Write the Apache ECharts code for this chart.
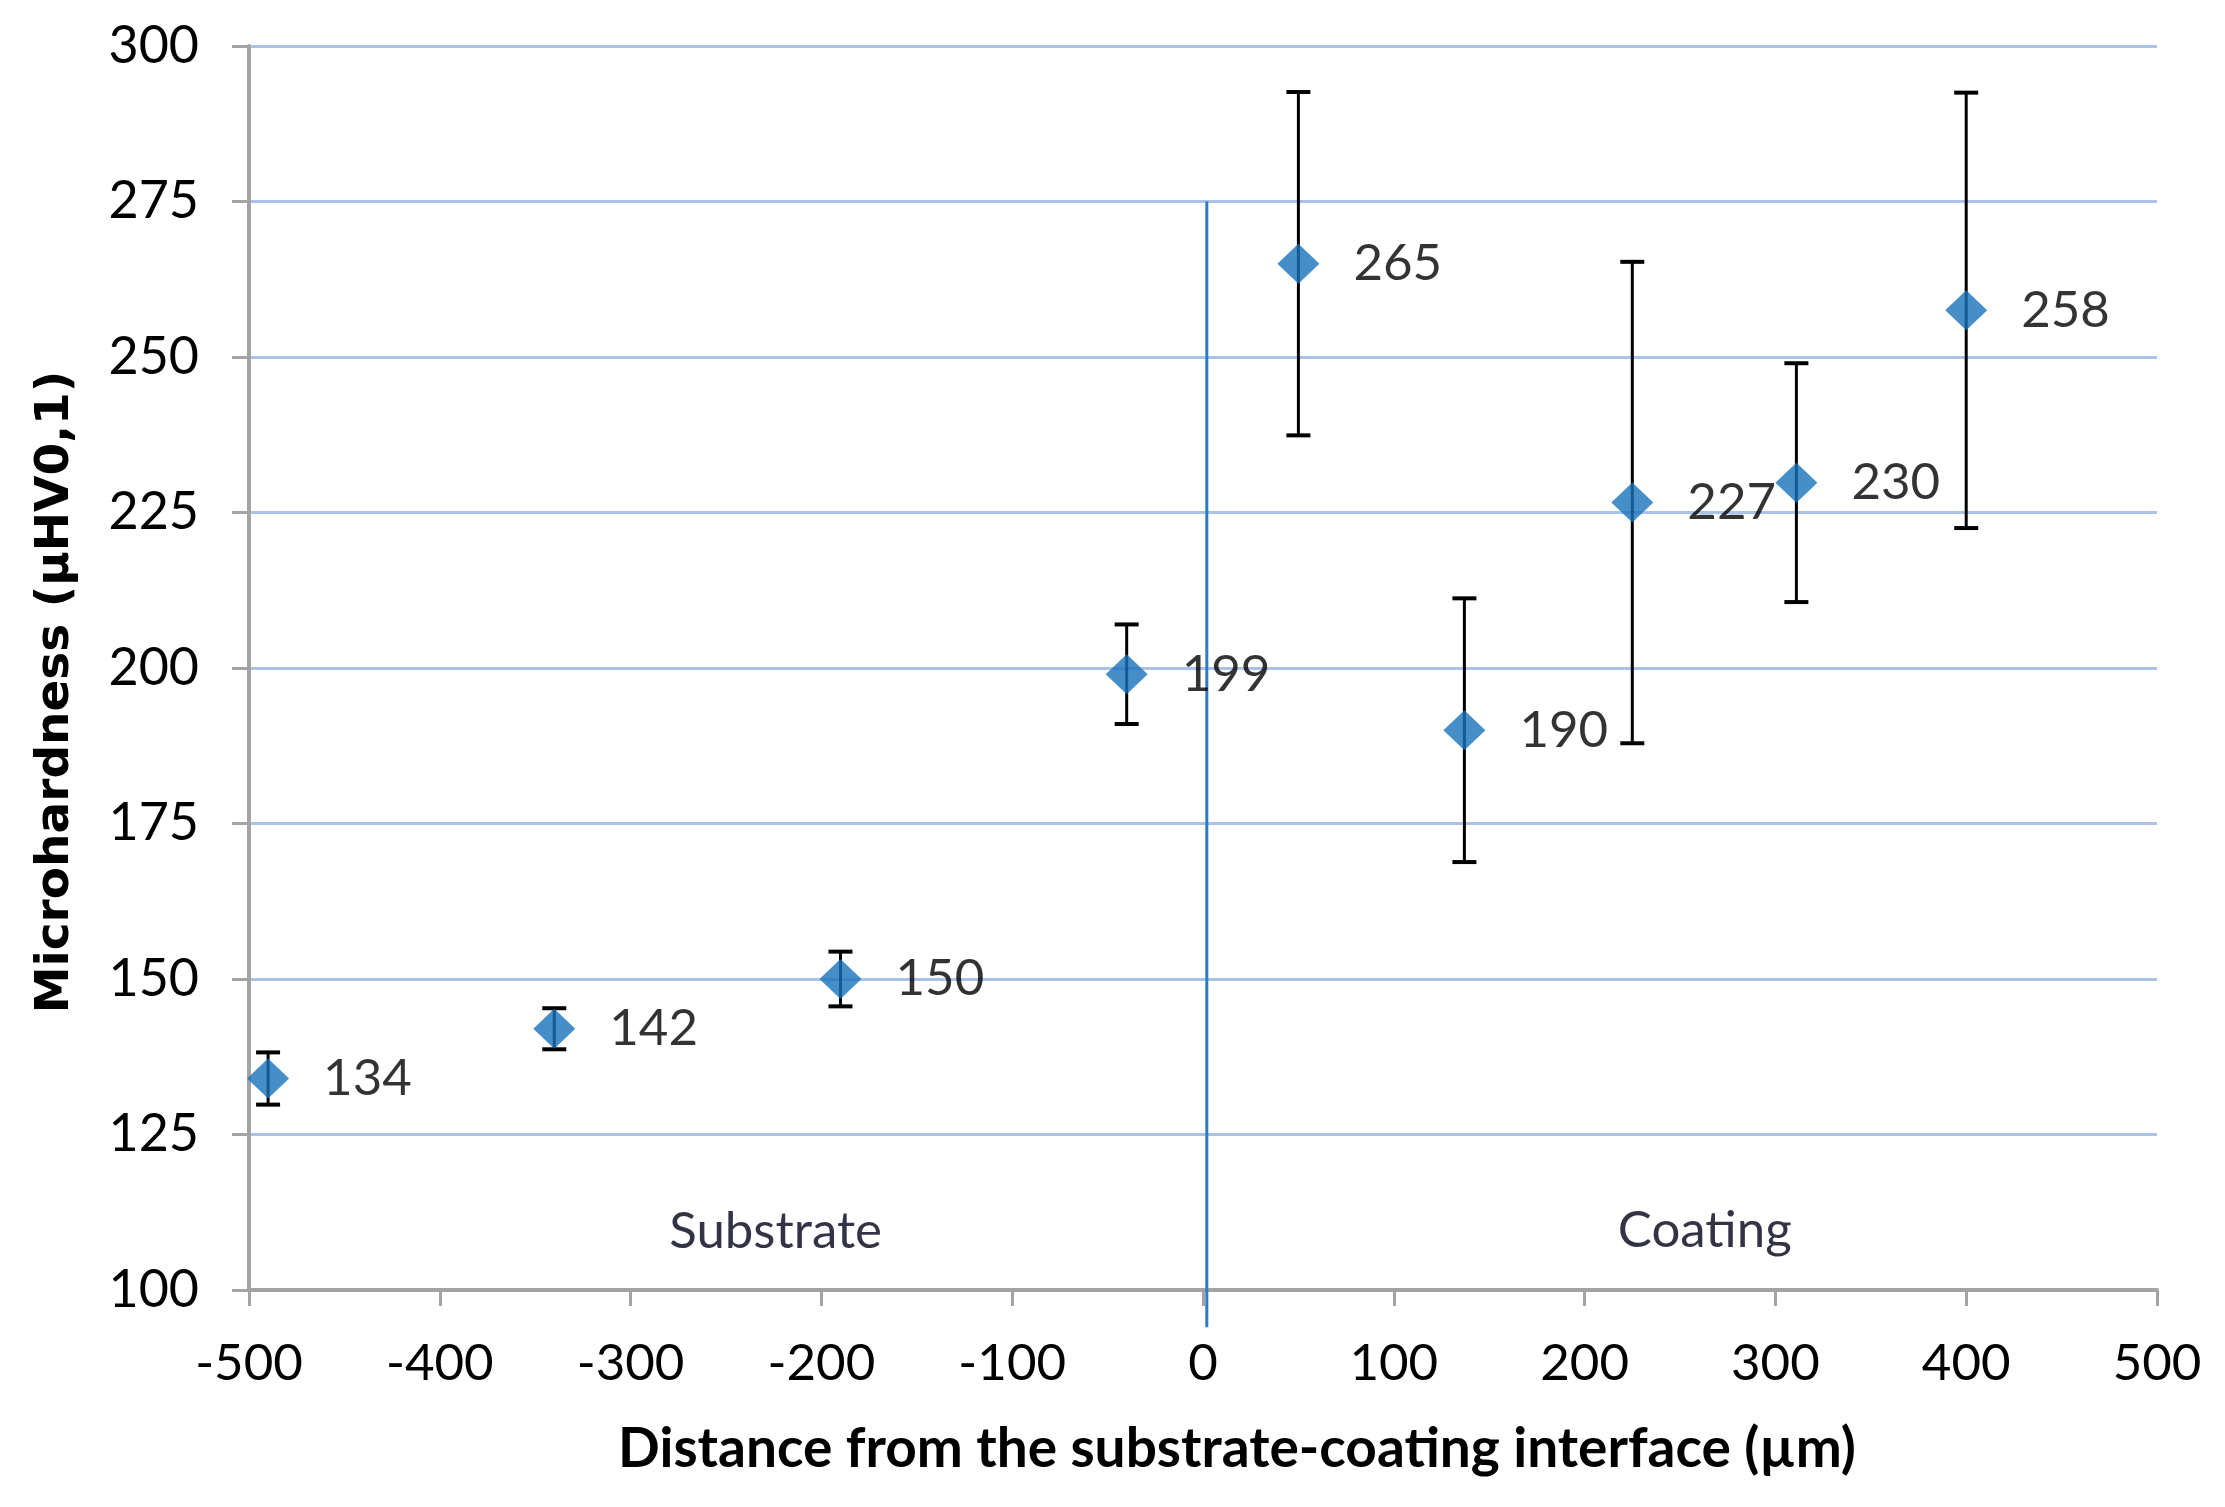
<!DOCTYPE html>
<html>
<head>
<meta charset="utf-8">
<script src="https://cdn.jsdelivr.net/npm/echarts@6/dist/echarts.min.js"></script>
<style>
  html, body { margin: 0; padding: 0; background: #fff; }
  #chart { width: 2225px; height: 1507px; }
</style>
</head>
<body>
<div id="chart"></div>
<script>
// Distance from interface (µm)
const distances = [-490, -340, -190, -40, 50, 137, 225, 311, 400];
// Mean microhardness
const hardness = [134, 142, 150, 199, 265, 190, 226.6, 229.8, 257.5];
// Error (± half-range)
const errors = [4.2, 3.3, 4.4, 8, 27.6, 21.2, 38.7, 19.2, 35];
// Interface marker line (x, y from, y to)
const interfaceX = [2];
const interfaceTop = [275];
const interfaceBottom = [94];
// Region annotations
const regionNames = ['Substrate', 'Coating'];
const regionX = [-224, 263];
const regionY = [109.4, 109.6];
// Axis ticks
const xMin = -500, xMax = 500, xStep = 100;
const yMin = 100, yMax = 300, yStep = 25;

const chart = echarts.init(document.getElementById('chart'), null, { renderer: 'canvas' });

const pointData = distances.map((x, i) => [x, hardness[i]]);
const errData = distances.map((x, i) => [x, hardness[i] - errors[i], hardness[i] + errors[i]]);
const lineData = interfaceX.map((x, i) => [x, interfaceBottom[i], interfaceTop[i]]);
const regionData = regionNames.map((n, i) => ({ name: n, value: [regionX[i], regionY[i]] }));

const gray = '#A3A3A3';
const tickFont = 'Lato, "Open Sans", sans-serif';

chart.setOption({
  animation: false,
  backgroundColor: '#ffffff',
  grid: { left: 249, right: 68, top: 46, bottom: 217, containLabel: false },
  xAxis: {
    type: 'value', min: xMin, max: xMax, interval: xStep,
    name: 'Distance from the substrate-coating interface (µm)',
    nameLocation: 'middle', nameGap: 132,
    nameTextStyle: { fontFamily: tickFont, fontWeight: 'bold', fontSize: 55, color: '#000', padding: [0, 0, 0, 68] },
    axisLine: { show: true, onZero: false, lineStyle: { color: gray, width: 4 } },
    axisTick: { show: true, length: 16, lineStyle: { color: gray, width: 3 } },
    axisLabel: { fontFamily: tickFont, fontSize: 51, color: '#000', margin: 48 },
    splitLine: { show: false }
  },
  yAxis: {
    type: 'value', min: yMin, max: yMax, interval: yStep,
    name: 'Microhardness (µHV0,1)',
    nameLocation: 'middle', nameGap: 170,
    nameTextStyle: { fontFamily: '"DejaVu Sans", Verdana, sans-serif', fontWeight: 'bold', fontSize: 47, color: '#000', padding: [0, 48, 0, 0] },
    axisLine: { show: true, onZero: false, lineStyle: { color: gray, width: 4 } },
    axisTick: { show: true, length: 17, lineStyle: { color: gray, width: 3 } },
    axisLabel: { fontFamily: tickFont, fontSize: 52, color: '#000', margin: 50 },
    splitLine: { show: true, lineStyle: { color: '#A9C3E8', width: 3 } }
  },
  series: [
    {
      type: 'custom',
      data: lineData,
      clip: false,
      z: 4,
      silent: true,
      encode: { x: 0, y: [1, 2] },
      renderItem: function (params, api) {
        const x = api.value(0);
        const a = api.coord([x, api.value(2)]);
        const b = api.coord([x, api.value(1)]);
        return {
          type: 'line',
          shape: { x1: a[0], y1: a[1], x2: b[0], y2: b[1] },
          style: { stroke: '#2A7DC4', lineWidth: 3 }
        };
      }
    },
    {
      type: 'custom',
      data: errData,
      z: 3,
      encode: { x: 0, y: [1, 2] },
      renderItem: function (params, api) {
        const x = api.value(0);
        const top = api.coord([x, api.value(2)]);
        const bot = api.coord([x, api.value(1)]);
        const cw = 12;
        return {
          type: 'group',
          children: [
            { type: 'line', shape: { x1: top[0], y1: top[1], x2: bot[0], y2: bot[1] }, style: { stroke: '#000', lineWidth: 3 } },
            { type: 'line', shape: { x1: top[0] - cw, y1: top[1], x2: top[0] + cw, y2: top[1] }, style: { stroke: '#000', lineWidth: 4 } },
            { type: 'line', shape: { x1: bot[0] - cw, y1: bot[1], x2: bot[0] + cw, y2: bot[1] }, style: { stroke: '#000', lineWidth: 4 } }
          ]
        };
      }
    },
    {
      type: 'scatter',
      data: pointData,
      symbol: 'diamond',
      symbolSize: [42, 40],
      itemStyle: { color: '#1872BA' },
      z: 5,
      label: {
        show: true, position: 'right', distance: 34,
        fontFamily: tickFont, fontSize: 51, color: '#000',
        formatter: p => String(Math.round(p.value[1]))
      }
    },
    {
      type: 'scatter',
      data: regionData,
      symbolSize: 0,
      z: 6,
      label: {
        show: true, position: 'inside',
        fontFamily: tickFont, fontSize: 51, color: '#000018',
        formatter: p => p.name
      }
    }
  ]
});
</script>
</body>
</html>
